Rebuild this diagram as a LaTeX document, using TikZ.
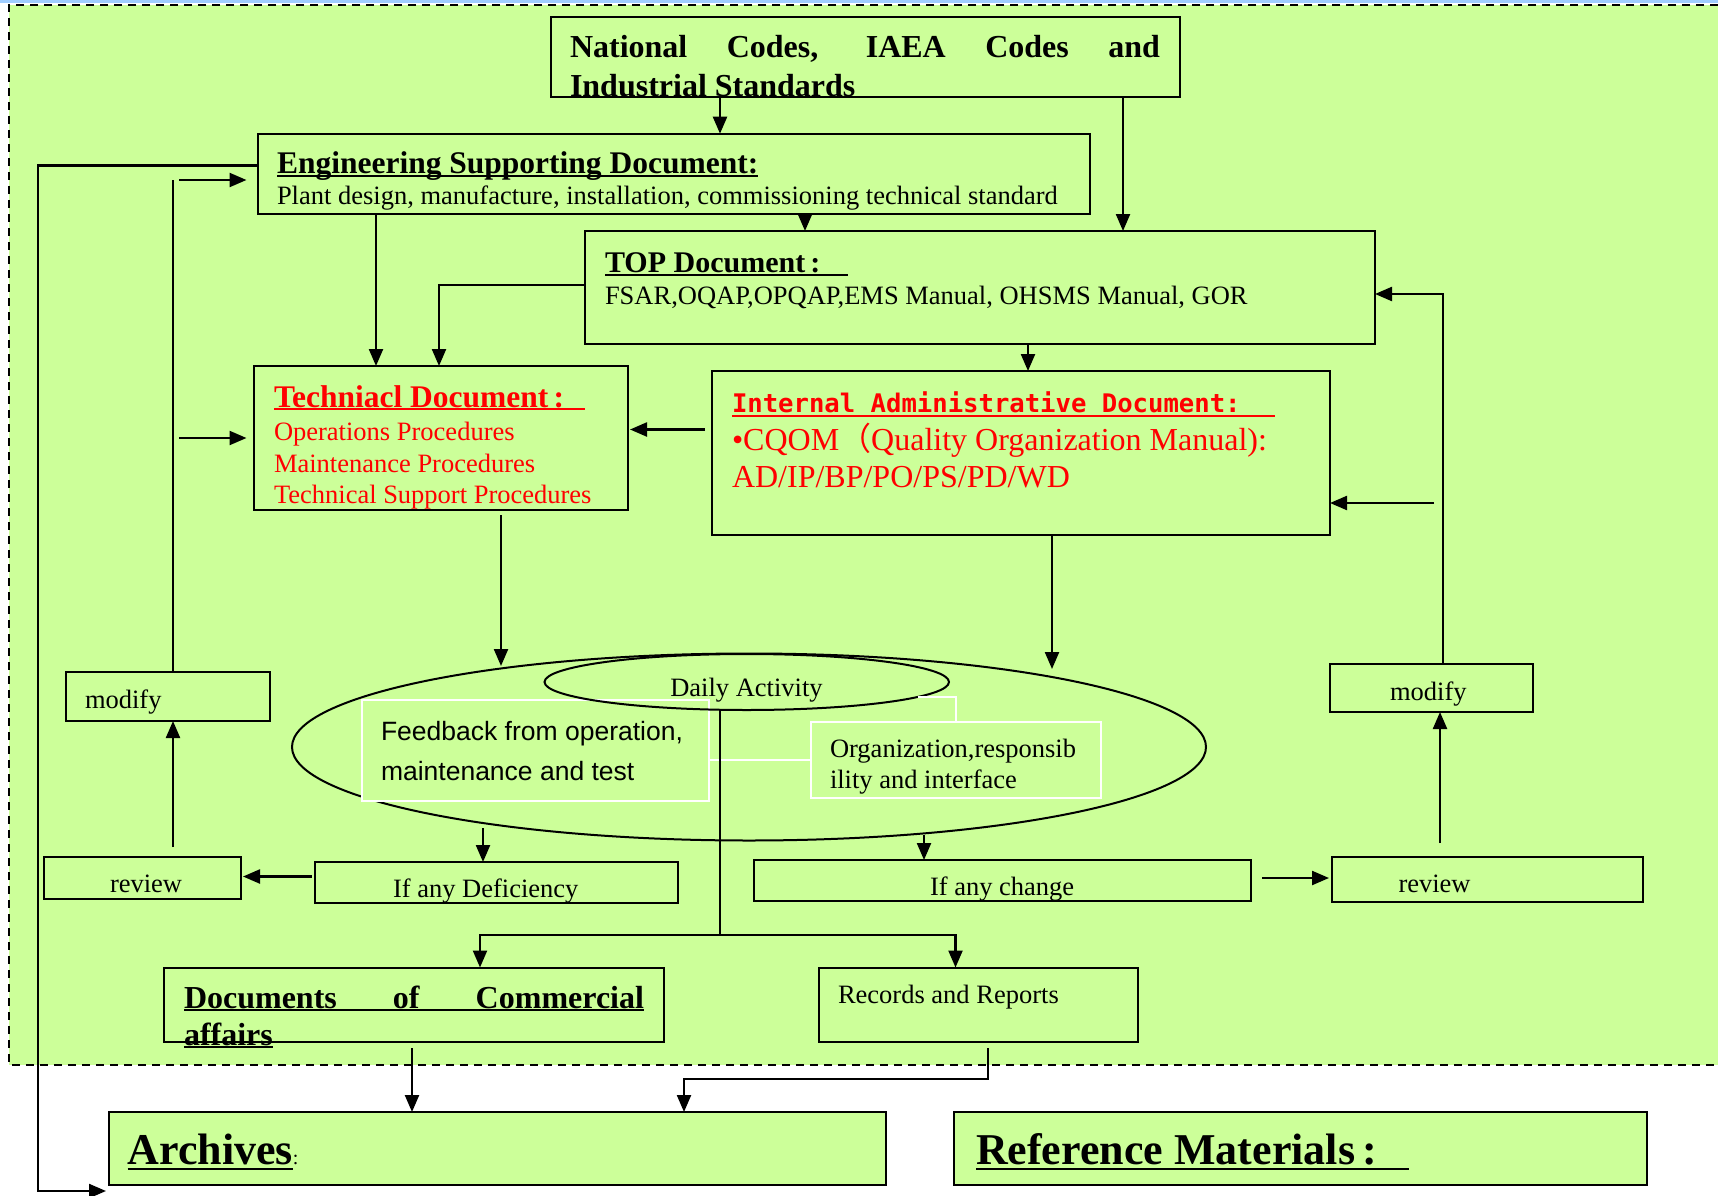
\documentclass[tikz,border=0pt]{standalone}
\usepackage{fontspec}
\setmainfont{Liberation Serif}
\setsansfont{Liberation Sans}
\newfontfamily\monof{DejaVu Sans Mono}
\newfontfamily\cjk{Noto Sans CJK SC}
\usetikzlibrary{shapes.geometric,arrows.meta}
\definecolor{bggreen}{RGB}{204,255,153}
\definecolor{topblue}{RGB}{160,205,255}
\newcommand\fs[1]{\fontsize{#1}{#1}\selectfont}
\newsavebox\ulbox
\newcommand\ulx[3]{\sbox\ulbox{#3}\rlap{\rule[-#1]{\wd\ulbox}{#2}}\usebox\ulbox}
\newcommand\mkbox[6][box]{\node[#1, anchor=north west, minimum width={#5-#3}, minimum height={#6-#4}] (#2) at (#3,#4) {};}
\begin{document}
\begin{tikzpicture}[x=1pt,y=-1pt,
  box/.style={draw=black, line width=2pt, fill=bggreen, rectangle, inner sep=0pt, outer sep=0pt},
  wbox/.style={draw=white, line width=2pt, fill=bggreen, rectangle, inner sep=0pt, outer sep=0pt},
  conn/.style={line width=2.3pt, draw=black},
  arr/.style={conn, -{Triangle[length=17pt,width=14pt]}},
  txt/.style={anchor=base west, inner sep=0pt, outer sep=0pt},
  wline/.style={draw=white, line width=2pt},
  border/.style={draw=black, line width=1.6pt, dash pattern=on 8pt off 6pt}]
\useasboundingbox (0,0) rectangle (1718,1196);
\fill[white] (0,0) rectangle (1718,1196);
\fill[bggreen] (9,5) rectangle (1718,1065);
\fill[topblue] (0,0) rectangle (1718,3);
\draw[border] (1718,5) -- (9,5) -- (9,1065) -- (1718,1065);

% boxes
\mkbox{nat}{551}{17.5}{1180}{97.5}
\mkbox{eng}{257.5}{133.7}{1090}{213.7}
\mkbox{top}{585}{231}{1375}{344}
\mkbox{tech}{254}{366}{628}{510}
\mkbox{int}{712}{371}{1330}{535}
\mkbox{modL}{66}{672}{269.5}{721}
\mkbox{modR}{1330}{664}{1533}{712}
\mkbox{revL}{44}{857}{241}{898.5}
\mkbox{def}{314.5}{862}{678}{903}
\mkbox{chg}{754}{860}{1251}{900.5}
\mkbox{revR}{1332}{857}{1643}{902}
\mkbox{docs}{164}{967.5}{664}{1042}
\mkbox{rec}{818.5}{967.5}{1138}{1042}
\mkbox{arch}{108.5}{1112}{886}{1184.5}
\mkbox{refm}{954}{1112}{1647}{1184.5}

% ellipses and white boxes
\node[draw, line width=2pt, ellipse, inner sep=0pt, outer sep=0pt, minimum width=914, minimum height=187] (big) at (749,747) {};
\mkbox[wbox]{fb}{361.5}{700}{709}{801}
\mkbox[wbox]{org}{811}{722}{1101}{798}
\node[draw, line width=2pt, ellipse, inner sep=0pt, outer sep=0pt, minimum width=404.5, minimum height=56] (daily) at (746.75,682) {};
\draw[wline] (daily.-5) -| (org.north);
\draw[wline] (org.west) -- (org.west -| fb.east);

% texts
\node[txt] (t1) at (570,57.5) {\bfseries\fs{32}\makebox[590pt][s]{National Codes, IAEA Codes and}};
\node[txt] (t2) at (570,96.5) {\bfseries\fs{32}Industrial Standards};
\node[txt] (t3) at (277,173) {\bfseries\fs{31.5}\ulx{3.5pt}{2pt}{Engineering Supporting Document:}};
\node[txt] (t4) at (277,204) {\fs{26.5}Plant design, manufacture, installation, commissioning technical standard};
\node[txt] (t5) at (605,272) {\bfseries\fs{30}\ulx{4pt}{2pt}{\makebox[243pt][l]{TOP Document\,:}}};
\node[txt] (t6) at (605,304) {\fs{26.5}FSAR,OQAP,OPQAP,EMS Manual, OHSMS Manual, GOR};
\node[txt, text=red] (t7) at (274,407) {\bfseries\fs{31.5}\ulx{3pt}{2pt}{\makebox[311pt][l]{Techniacl Document\,:}}};
\node[txt, text=red] (t8) at (274,440) {\fs{26.5}Operations Procedures};
\node[txt, text=red] (t9) at (274,472) {\fs{26.5}Maintenance Procedures};
\node[txt, text=red] (t10) at (274,503.5) {\fs{26.5}Technical Support Procedures};
\node[txt, text=red] (t11) at (732,412.5) {\monof\bfseries\fs{25.6}\ulx{4.5pt}{2pt}{\makebox[543pt][l]{Internal Administrative Document:}}};
\node[txt, text=red] (t12) at (732,450) {\fs{32}•CQOM{\cjk （}Quality Organization Manual):};
\node[txt, text=red] (t13) at (732,487) {\fs{32}AD/IP/BP/PO/PS/PD/WD};
\node[anchor=base, inner sep=0pt] (t14) at (746.5,696) {\fs{26.5}Daily Activity};
\node[txt] (t15) at (381,740) {\sffamily\fs{26.5}Feedback from operation,};
\node[txt] (t16) at (381,780.5) {\sffamily\fs{26.5}maintenance and test};
\node[txt] (t17) at (830,757) {\fs{26.5}Organization,responsib};
\node[txt] (t18) at (830,788) {\fs{26.5}ility and interface};
\node[txt] (t19) at (85,708) {\fs{26.5}modify};
\node[txt] (t20) at (1390,700) {\fs{26.5}modify};
\node[txt] (t21) at (110,892) {\fs{26.5}review};
\node[txt] (t22) at (1398.5,892) {\fs{26.5}review};
\node[txt] (t23) at (393,897) {\fs{26.5}If any Deficiency};
\node[txt] (t24) at (930,895) {\fs{26.5}If any change};
\node[txt] (t25) at (184,1008) {\bfseries\fs{32}\ulx{3pt}{2pt}{\makebox[460pt][s]{Documents of Commercial}}};
\node[txt] (t26) at (184,1045) {\bfseries\fs{32}\ulx{3pt}{2pt}{affairs}};
\node[txt] (t27) at (838,1003) {\fs{26.5}Records and Reports};
\node[txt] (t28) at (127.5,1164) {\bfseries\fs{44}\ulx{6pt}{2.5pt}{Archives}{\mdseries\fs{20}:}};
\node[txt] (t29) at (976,1164) {\bfseries\fs{44}\ulx{6pt}{2.5pt}{\makebox[433pt][l]{Reference Materials\,:}}};

% connectors
\draw[arr] (nat.south -| 720,0) -- (eng.north -| 720,0);
\draw[arr] (nat.south -| 1123,0) -- (top.north -| 1123,0);
\draw[arr] (eng.south -| 805,0) -- (top.north -| 805,0);
\draw[arr] (eng.south -| 376,0) -- (tech.north -| 376,0);
\draw[arr] (top.west |- 0,285) -| (tech.north -| 439,0);
\draw[arr] (top.south -| 1028,0) -- (int.north -| 1028,0);
\draw[arr, shorten <=7pt, shorten >=2pt] (int.west |- 0,429.5) -- (tech.east |- 0,429.5);
\coordinate (e1) at (501,666);
\draw[arr, shorten <=5pt] (tech.south -| e1) -- (e1);
\coordinate (e2) at (1052,669);
\draw[arr] (int.south -| e2) -- (e2);
\coordinate (e3) at (483,828);
\draw[arr] (e3) -- (def.north -| e3);
\coordinate (e4) at (924,835);
\draw[arr] (e4) -- (chg.north -| e4);
\draw[arr, shorten <=3pt, shorten >=2pt] (def.west |- 0,876.5) -- (revL.east |- 0,876.5);
\draw[arr, shorten <=10pt] (revL.north -| 173,0) -- (modL.south -| 173,0);
\coordinate (lt) at (173,180);
\draw[conn] (modL.north -| lt) -- (lt);
\draw[arr, shorten <=6pt, shorten >=11pt] (lt) -- (eng.west |- lt);
\draw[arr, shorten <=6pt, shorten >=7.5pt] (lt |- 0,438) -- (tech.west |- 0,438);
\draw[arr, shorten <=11pt, shorten >=3pt] (chg.east |- 0,878) -- (revR.west |- 0,878);
\draw[arr, shorten <=14pt] (revR.north -| 1440,0) -- (modR.south -| 1440,0);
\draw[arr] (modR.north -| 1443,0) |- (top.east |- 0,294);
\coordinate (ir) at (1434,503);
\draw[arr] (ir) -- (int.east |- ir);
\coordinate (ob) at (106,1191);
\draw[arr] (eng.west |- 0,165.5) -| (ob -| 38,0) -- (ob);
\coordinate (split) at (720,935);
\draw[conn] (daily.south -| split) -- (split);
\draw[arr] (split) -| (docs.north -| 480,0);
\draw[arr] (split) -| (rec.north -| 955.5,0);
\draw[arr, shorten <=6pt] (docs.south -| 412,0) -- (arch.north -| 412,0);
\draw[arr, shorten <=6pt] (rec.south -| 988,0) |- (684,1079) -- (arch.north -| 684,0);
\end{tikzpicture}
\end{document}
